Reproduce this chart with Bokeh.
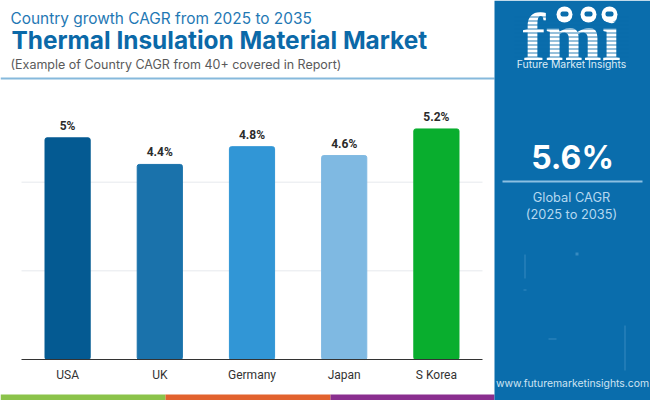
from bokeh.plotting import figure
from bokeh.models import Label, BoxAnnotation, PolyAnnotation, Range1d, FixedTicker, ColumnDataSource, LinearAxis
from bokeh.core.properties import value
from bokeh.embed import file_html
from bokeh.resources import INLINE
import numpy as np

categories = ["USA", "UK", "Germany", "Japan", "S Korea"]
values = [5.0, 4.4, 4.8, 4.6, 5.2]
value_labels = ["5%", "4.4%", "4.8%", "4.6%", "5.2%"]
bar_colors = ["#045a92", "#1a72ab", "#3196d6", "#7fb9e2", "#09ae2e"]
grid_ticks = [2, 4]

W, H = 650, 400
LEFT, RIGHT, TOP, BOTTOM = 21, 482, 93, 359   # where the chart's slots and 0..6 scale lie on the page
PANEL = "#0a6dac"
FONT = "Inter"

n = len(categories)
slots = [i + 0.5 for i in range(n)]
px_per_slot = (RIGHT - LEFT) / n
px_per_unit = (BOTTOM - TOP) / 6
source = ColumnDataSource(dict(x=slots, val=values, lab=value_labels, col=bar_colors))
p = figure(width=W, height=H, output_backend="svg", toolbar_location=None,
           x_range=Range1d(-LEFT / px_per_slot, (W - LEFT) / px_per_slot),
           y_range=Range1d(-(H - BOTTOM) / px_per_unit, BOTTOM / px_per_unit),
           x_axis_location=None, y_axis_location=None,
           min_border=0, outline_line_color=None, background_fill_color="white", border_fill_color="white")
p.grid.visible = False

xaxis = LinearAxis(fixed_location=0, bounds=(0, n), ticker=FixedTicker(ticks=slots),
                   major_label_overrides=dict(zip(slots, categories)),
                   axis_line_color="#333333", axis_line_width=1,
                   major_tick_line_color=None, minor_tick_line_color=None,
                   major_label_text_font="Roboto", major_label_text_font_size="12px",
                   major_label_text_color="#333333", major_label_standoff=2)
p.add_layout(xaxis, "below")

p.segment(x0=[0] * len(grid_ticks), x1=[n] * len(grid_ticks), y0=grid_ticks, y1=grid_ticks,
          line_color="#e6e9ed", line_width=1)
p.vbar(x="x", top="val", bottom=0, width=0.49, color="col", source=source, border_radius=2)
p.text(x="x", y="val", text="lab", source=source, text_align="center", text_baseline="bottom",
       y_offset=-5, text_font=value("Roboto"), text_font_size="12px", text_font_style="bold", text_color="#2b2b2b")

# layout ranges that read directly in page pixels, used for the decoration around the chart
p.extra_x_ranges["px"] = Range1d(0, W)
p.extra_y_ranges["py"] = Range1d(H, 0)


def box(l, t, r, b, color, alpha=1.0, radius=0):
    p.add_layout(BoxAnnotation(left=l, right=r, top=t, bottom=b, x_range_name="px", y_range_name="py",
                               fill_color=color, fill_alpha=alpha, line_color=None, border_radius=radius,
                               line_alpha=0))


def text(x, y, s, size, color, font=FONT, style="normal", align="left"):
    p.add_layout(Label(x=x, y=y, x_range_name="px", y_range_name="py", text=s,
                       text_font=font, text_font_size=size, text_font_style=style, text_color=color,
                       text_align=align, text_baseline="middle"))


# header
box(0, 77, 494, 79, "#86b9dc")
text(10, 18, "Country growth CAGR from 2025 to 2035", "15.4px", "#1f78b4")
text(11, 39, "Thermal Insulation Material Market", "24.4px", "#0b69a8", style="bold")
text(10, 64, "(Example of Country CAGR from 40+ covered in Report)", "12.5px", "#5a5a5a")

# footer strip
box(0, 394, 165, 400, "#8bc34a")
box(165, 394, 330, 400, "#e2622e")
box(330, 394, 494, 400, "#8a2f8f")

# right panel
box(494, 0, 650, 400, PANEL)
for (l, t, r, b) in [(524, 254, 525, 278), (575, 252, 578, 255), (624, 325, 625, 370), (548, 338, 556, 339), (523, 289, 526, 290)]:
    box(l, t, r, b, "#6fb0da", alpha=0.45)

text(572, 157, "5.6%", "32px", "white", style="bold", align="center")
box(502, 180, 642, 182, "#8cc0e2")
text(571, 197, "Global CAGR", "12.8px", "#b5d8f0", align="center")
text(571, 214, "(2025 to 2035)", "12.8px", "#b5d8f0", align="center")
text(572, 383, "www.futuremarketinsights.com", "10.4px", "#cfe4f3", align="center")

# logo
text(571, 36, "fmi", "68px", "white", font="Liberation Serif", style="bold", align="center")
for y in range(16, 58, 4):
    box(514, y, 628, y + 1, PANEL, alpha=0.85)
for cx, cy in [(564, 14), (588, 14), (609, 14)]:
    box(cx - 8, cy - 8, cx + 8, cy + 8, "white", radius=8)
    box(cx - 4, cy - 3, cx + 4, cy + 2, PANEL, radius=2)
theta = np.linspace(0.15, np.pi - 0.15, 30)
xs = list(606 + 22 * np.cos(theta)) + list(606 + 21 * np.cos(theta[::-1]))
ys = list(7 + 17 * np.sin(theta)) + list(7 + 15.5 * np.sin(theta[::-1]))
p.add_layout(PolyAnnotation(xs=xs, ys=ys, x_range_name="px", y_range_name="py",
                            fill_color="white", fill_alpha=1, line_color=None))
text(571, 64, "Future Market Insights", "10.4px", "#dcebf6", align="center")

open("out.html", "w").write(file_html(p, INLINE))
